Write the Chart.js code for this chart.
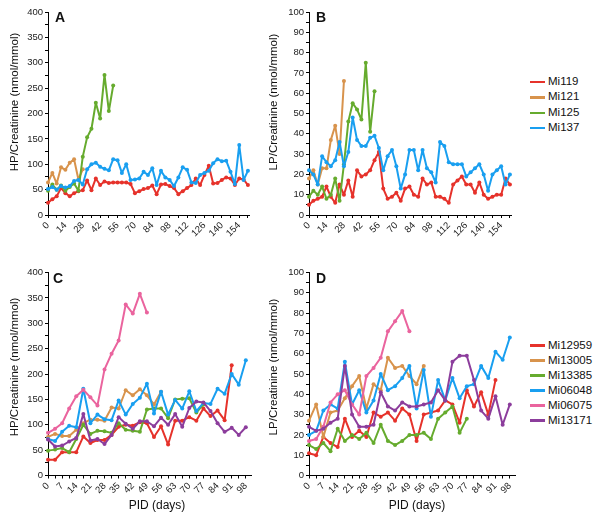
<!DOCTYPE html>
<html>
<head>
<meta charset="utf-8">
<script src="https://cdn.jsdelivr.net/npm/chart.js@4.4.0/dist/chart.umd.min.js"></script>
<style>
  body { margin: 0; background: #fff; width: 600px; height: 519px; position: relative; overflow: hidden;
         font-family: "Liberation Sans", Arial, sans-serif; color: #111; }
  canvas { position: absolute; }
  .ytitle { position: absolute; font-size: 11.5px; white-space: nowrap; transform: translate(-50%, -50%) rotate(-90deg); }
  .xtitle { position: absolute; font-size: 12px; white-space: nowrap; transform: translate(-50%, -50%); }
  .letter { position: absolute; font-size: 14px; font-weight: bold; }
  .leg { position: absolute; left: 530px; font-size: 11.5px; height: 14px; line-height: 14px; white-space: nowrap; transform: translateY(-50%); }
  .leg span { display: inline-block; width: 15px; height: 2.5px; vertical-align: middle; margin-right: 3px; }
</style>
</head>
<body>
<canvas id="chartA" width="258" height="245" style="left:0;top:0"></canvas>
<canvas id="chartB" width="261" height="245" style="left:259px;top:0"></canvas>
<canvas id="chartC" width="256" height="250" style="left:0;top:255px"></canvas>
<canvas id="chartD" width="261" height="250" style="left:259px;top:255px"></canvas>

<div class="letter" style="left:55px;top:9px">A</div>
<div class="letter" style="left:316px;top:9px">B</div>
<div class="letter" style="left:53px;top:270px">C</div>
<div class="letter" style="left:316px;top:270px">D</div>

<div class="ytitle" style="left:14px;top:102px">HP/Creatinine (nmol/mmol)</div>
<div class="ytitle" style="left:273px;top:102px">LP/Creatinine (nmol/mmol)</div>
<div class="ytitle" style="left:14px;top:367px">HP/Creatinine (nmol/mmol)</div>
<div class="ytitle" style="left:273px;top:367px">LP/Creatinine (nmol/mmol)</div>
<div class="xtitle" style="left:157px;top:505px">PID (days)</div>
<div class="xtitle" style="left:417px;top:505px">PID (days)</div>

<div id="legendAB"></div>
<div id="legendCD"></div>

<script>
// sampling days (twice a week)
const daysAB = [0, 3.5, 7, 10.5, 14, 17.5, 21, 24.5, 28, 31.5, 35, 38.5, 42, 45.5, 49, 52.5, 56, 59.5, 63, 66.5,
  70, 73.5, 77, 80.5, 84, 87.5, 91, 94.5, 98, 101.5, 105, 108.5, 112, 115.5, 119, 122.5, 126, 129.5, 133, 136.5,
  140, 143.5, 147, 150.5, 154, 157.5, 161];
const daysCD = [0, 3.5, 7, 10.5, 14, 17.5, 21, 24.5, 28, 31.5, 35, 38.5, 42, 45.5, 49, 52.5, 56, 59.5, 63, 66.5,
  70, 73.5, 77, 80.5, 84, 87.5, 91, 94.5, 98];

const namesAB = ['Mi119', 'Mi121', 'Mi125', 'Mi137'];
const namesCD = ['Mi12959', 'Mi13005', 'Mi13385', 'Mi06048', 'Mi06075', 'Mi13171'];
const colorsAB = ['#e6322b', '#d8934c', '#66ab2e', '#199ff0'];
const colorsCD = ['#e6322b', '#d8934c', '#66ab2e', '#199ff0', '#ea649e', '#8c3d9c'];

// A: HP/Creatinine
const hpMi119 = [24, 31, 37, 53, 43, 37, 43, 47, 49, 68, 49, 72, 59, 66, 63, 64, 64, 64, 64, 61, 43, 47, 51, 53, 58,
  41, 60, 61, 57, 53, 41, 47, 53, 59, 72, 59, 79, 97, 62, 63, 69, 74, 72, 59, 72, 70, 59];
const hpMi121 = [64, 83, 62, 94, 89, 103, 110, 70, 90];
const hpMi125 = [48, 60, 50, 58, 48, 55, 62, 48, 115, 153, 170, 221, 190, 276, 205, 255];
const hpMi137 = [51, 55, 50, 57, 54, 57, 67, 69, 60, 90, 100, 103, 95, 91, 88, 110, 108, 83, 100, 69, 70, 72, 85, 79,
  92, 59, 87, 74, 69, 57, 74, 94, 89, 64, 63, 79, 83, 87, 102, 110, 106, 107, 85, 61, 138, 69, 87];

// B: LP/Creatinine
const lpMi119 = [5, 7, 8, 9, 14, 9, 6, 15, 10, 17, 9, 22, 19, 20, 22, 27, 31, 13, 8, 9, 11, 7, 13, 14, 10, 9, 18, 15,
  16, 9, 9, 8, 6, 15, 17, 19, 15, 15, 11, 16, 10, 8, 9, 10, 10, 18, 15];
const lpMi121 = [18, 22, 15, 23, 23, 37, 44, 30, 66];
const lpMi125 = [9, 12, 10, 14, 8, 10, 18, 7, 25, 46, 55, 52, 47, 75, 41, 61];
const lpMi137 = [22, 20, 15, 29, 26, 24, 27, 36, 24, 31, 48, 37, 34, 34, 38, 39, 33, 22, 29, 32, 24, 13, 20, 32, 32,
  22, 32, 23, 21, 16, 36, 34, 26, 25, 25, 25, 19, 21, 23, 25, 20, 12, 20, 22, 24, 15, 20];

// C: HP/Creatinine
const hpMi12959 = [31, 31, 46, 46, 46, 77, 64, 70, 70, 80, 96, 100, 98, 105, 103, 76, 97, 61, 108, 108, 115, 108, 132,
  117, 128, 109, 217];
const hpMi13005 = [76, 82, 78, 78, 90, 103, 110, 110, 108, 134, 132, 168, 158, 170, 158, 140, 165];
const hpMi13385 = [49, 51, 54, 46, 72, 100, 82, 88, 87, 84, 103, 90, 88, 86, 130, 132, 132, 113, 150, 151, 152, 124, 140];
const hpMi06048 = [72, 68, 86, 98, 95, 171, 103, 120, 111, 109, 148, 120, 141, 153, 181, 122, 165, 120, 149, 132, 166,
  127, 143, 141, 171, 161, 200, 179, 227];
const hpMi06075 = [84, 92, 103, 132, 156, 169, 154, 138, 209, 240, 266, 337, 319, 358, 321];
const hpMi13171 = [71, 57, 59, 67, 74, 121, 69, 72, 62, 80, 115, 102, 92, 107, 107, 97, 114, 100, 121, 96, 133, 146, 144,
  127, 103, 86, 94, 80, 95];

// D: LP/Creatinine
const lpMi12959 = [11, 10, 19, 16, 14, 28, 19, 22, 19, 31, 29, 31, 27, 33, 30, 17, 30, 31, 32, 37, 35, 26, 42, 34, 41, 30, 47];
const lpMi13005 = [27, 35, 19, 31, 32, 38, 44, 49, 33, 45, 42, 58, 53, 54, 49, 45, 54];
const lpMi13385 = [15, 13, 16, 12, 23, 17, 20, 18, 21, 16, 25, 17, 15, 17, 20, 20, 21, 18, 28, 31, 34, 21, 28];
const lpMi06048 = [20, 22, 32, 35, 33, 56, 35, 42, 31, 37, 50, 42, 44, 48, 54, 33, 52, 29, 47, 37, 48, 38, 44, 45, 54,
  48, 61, 57, 68];
const lpMi06075 = [17, 18, 24, 36, 40, 42, 35, 30, 49, 53, 58, 71, 76, 81, 71];
const lpMi13171 = [24, 22, 23, 26, 28, 54, 30, 24, 24, 25, 41, 34, 32, 36, 34, 34, 35, 36, 42, 37, 56, 59, 59, 47, 32,
  28, 39, 25, 35];

// tick labels
const hpTicks = [0, 50, 100, 150, 200, 250, 300, 350, 400];
const lpTicks = [0, 10, 20, 30, 40, 50, 60, 70, 80, 90, 100];
const dayTicksAB = [0, 14, 28, 42, 56, 70, 84, 98, 112, 126, 140, 154];
const dayTicksCD = [0, 7, 14, 21, 28, 35, 42, 49, 56, 63, 70, 77, 84, 91, 98];

Chart.defaults.font.family = '"Liberation Sans", Arial, sans-serif';
Chart.defaults.font.size = 9.5;
Chart.defaults.color = '#222';

// labelled ticks plus unlabelled ones half way between
function withMinor(labels, max) {
  const out = [];
  const half = (labels[1] - labels[0]) / 2;
  labels.forEach(v => { out.push(v); if (v + half <= max) out.push(v + half); });
  return out;
}

function axis(labels, max, isX, size) {
  const all = withMinor(labels, max);
  return {
    type: 'linear', min: 0, max: max,
    border: { display: true, color: '#000', width: 1 },
    grid: { display: true, drawOnChartArea: false, drawTicks: true, tickLength: 3, color: '#000' },
    ticks: {
      autoSkip: false, padding: 2,
      minRotation: isX ? 45 : 0, maxRotation: isX ? 45 : 0,
      callback: v => labels.includes(v) ? String(v) : ''
    },
    afterBuildTicks: ax => { ax.ticks = all.map(v => ({ value: v })); },
    afterFit: ax => { if (isX) ax.height = size; else ax.width = size; }
  };
}

function drawPanel(id, days, seriesList, colors, yLabels, yMax, xLabels, xMax, yWidth, xHeight, padTop) {
  const datasets = seriesList.map((vals, i) => ({
    data: vals.map((v, k) => ({ x: days[k], y: v })),
    borderColor: colors[i],
    backgroundColor: colors[i],
    borderWidth: 2,
    borderJoinStyle: 'round',
    borderCapStyle: 'round',
    pointRadius: 2,
    pointBorderWidth: 0,
    tension: 0,
    clip: false,
    order: seriesList.length - i
  }));
  new Chart(document.getElementById(id), {
    type: 'line',
    data: { datasets },
    options: {
      responsive: false,
      animation: false,
      layout: { padding: { top: padTop, right: 3, left: 0, bottom: 0 } },
      plugins: { legend: { display: false }, tooltip: { enabled: false } },
      scales: {
        x: axis(xLabels, xMax, true, xHeight),
        y: axis(yLabels, yMax, false, yWidth)
      }
    }
  });
}

drawPanel('chartA', daysAB, [hpMi119, hpMi121, hpMi125, hpMi137], colorsAB, hpTicks, 400, dayTicksAB, 162, 48, 30, 12);
drawPanel('chartB', daysAB, [lpMi119, lpMi121, lpMi125, lpMi137], colorsAB, lpTicks, 100, dayTicksAB, 162, 50, 30, 12);
drawPanel('chartC', daysCD, [hpMi12959, hpMi13005, hpMi13385, hpMi06048, hpMi06075, hpMi13171], colorsCD,
  hpTicks, 400, dayTicksCD, 101, 48, 29.5, 17.5);
drawPanel('chartD', daysCD, [lpMi12959, lpMi13005, lpMi13385, lpMi06048, lpMi06075, lpMi13171], colorsCD,
  lpTicks, 100, dayTicksCD, 101, 50, 29.5, 17.5);

// legends
function legend(id, names, colors, firstY, gap) {
  const box = document.getElementById(id);
  names.forEach((n, i) => {
    const d = document.createElement('div');
    d.className = 'leg';
    d.style.top = (firstY + i * gap) + 'px';
    d.innerHTML = '<span style="background:' + colors[i] + '"></span>' + n;
    box.appendChild(d);
  });
}
legend('legendAB', namesAB, colorsAB, 81, 15.4);
legend('legendCD', namesCD, colorsCD, 344.5, 15);
</script>
</body>
</html>
